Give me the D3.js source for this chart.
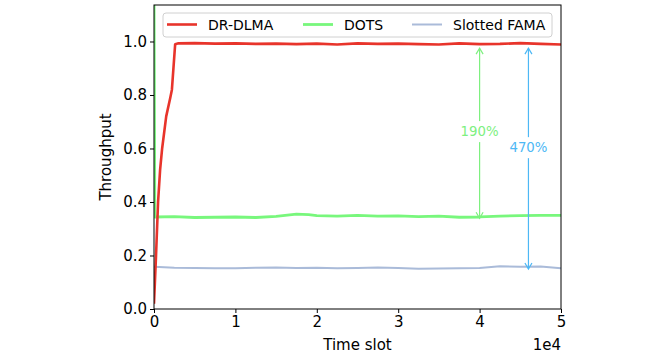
<!DOCTYPE html>
<html>
<head>
<meta charset="utf-8">
<script src="https://cdn.jsdelivr.net/npm/d3@7"></script>
<style>
html,body{margin:0;padding:0;background:#fff;}
svg{display:block;font-family:"DejaVu Sans",sans-serif;}
</style>
</head>
<body>
<svg id="chart" width="662" height="358"></svg>
<script>
// ---- data ----
const seriesNames = ["DR-DLMA", "DOTS", "Slotted FAMA"];
const drTime  = [0, 250, 500, 750, 1000, 1500, 2000, 2200, 2600, 3000, 5000, 7500, 10000, 12500, 15000, 17500, 20000, 22500, 25000, 27500, 30000, 32500, 35000, 37500, 40000, 42500, 45000, 47500, 50000];
const drValue = [0.02, 0.2, 0.4, 0.52, 0.6, 0.72, 0.79, 0.82, 0.99, 0.993, 0.994, 0.992, 0.993, 0.991, 0.992, 0.990, 0.992, 0.989, 0.993, 0.991, 0.992, 0.990, 0.989, 0.993, 0.990, 0.991, 0.994, 0.991, 0.989];
const dotsTime  = [0, 100, 2500, 5000, 7500, 10000, 12500, 15000, 17500, 19000, 20000, 22500, 25000, 27500, 30000, 32500, 35000, 37500, 40000, 42500, 45000, 47500, 50000];
const dotsValue = [1.2, 0.344, 0.345, 0.342, 0.343, 0.344, 0.342, 0.346, 0.355, 0.353, 0.349, 0.347, 0.350, 0.347, 0.348, 0.345, 0.347, 0.343, 0.344, 0.347, 0.349, 0.350, 0.350];
const famaTime  = [0, 2500, 5000, 7500, 10000, 12500, 15000, 17500, 20000, 22500, 25000, 27500, 30000, 32500, 35000, 37500, 40000, 42500, 45000, 47500, 50000];
const famaValue = [0.158, 0.154, 0.153, 0.152, 0.152, 0.154, 0.155, 0.153, 0.154, 0.152, 0.153, 0.155, 0.153, 0.150, 0.151, 0.152, 0.153, 0.160, 0.158, 0.159, 0.152];
const xTicks = [0, 10000, 20000, 30000, 40000, 50000];
const xTickLabels = ["0", "1", "2", "3", "4", "5"];
const yTicks = [0, 0.2, 0.4, 0.6, 0.8, 1.0];
const yTickLabels = ["0.0", "0.2", "0.4", "0.6", "0.8", "1.0"];
const annotations = [
  {label: "190%", t: 40000, from: 0.99, to: 0.345, labelAt: 0.665},
  {label: "470%", t: 46000, from: 0.99, to: 0.155, labelAt: 0.605}
];

// ---- styles ----
const colors = {"DR-DLMA": "#e8342b", "DOTS": "#78f77c", "Slotted FAMA": "#aabbd9"};
const widths = {"DR-DLMA": 2.6, "DOTS": 2.8, "Slotted FAMA": 2.0};
const annColors = ["#7ef07f", "#4db8f5"];

const svg = d3.select("#chart");
const L = 154, R = 561, T = 5, B = 309;
const x = d3.scaleLinear().domain([0, 50000]).range([L, R]);
const y = d3.scaleLinear().domain([0, 1.1364]).range([B, T]);

svg.append("defs").append("clipPath").attr("id", "clip")
  .append("rect").attr("x", L).attr("y", T).attr("width", R - L).attr("height", B - T);

const line = d3.line().x(d => x(d[0])).y(d => y(d[1]));
const plot = svg.append("g").attr("clip-path", "url(#clip)");

const data = {
  "DR-DLMA": drTime.map((t, i) => [t, drValue[i]]),
  "DOTS": dotsTime.map((t, i) => [t, dotsValue[i]]),
  "Slotted FAMA": famaTime.map((t, i) => [t, famaValue[i]])
};
["Slotted FAMA", "DOTS", "DR-DLMA"].forEach(n => {
  plot.append("path").datum(data[n]).attr("d", line)
    .attr("fill", "none").attr("stroke", colors[n]).attr("stroke-width", widths[n])
    .attr("stroke-linejoin", "round");
});

// annotations
annotations.forEach((a, i) => {
  const c = annColors[i];
  const g = svg.append("g");
  const xa = x(a.t), y1 = y(a.from) + 4, y2 = y(a.to) + 1.5;
  g.append("line").attr("x1", xa).attr("x2", xa).attr("y1", y1).attr("y2", y2)
    .attr("stroke", c).attr("stroke-width", 1.2);
  const head = (tipY, dir) => `M${xa - 3.5},${tipY + dir * 6} L${xa},${tipY} L${xa + 3.5},${tipY + dir * 6}`;
  g.append("path").attr("d", head(y1, 1)).attr("fill", "none").attr("stroke", c).attr("stroke-width", 1.2);
  g.append("path").attr("d", head(y2, -1)).attr("fill", "none").attr("stroke", c).attr("stroke-width", 1.2);
  const ty = y(a.labelAt);
  g.append("rect").attr("x", xa - 21).attr("y", ty - 10).attr("width", 42).attr("height", 21).attr("fill", "#fff");
  g.append("text").attr("x", xa).attr("y", ty).attr("text-anchor", "middle").attr("dominant-baseline", "central")
    .attr("font-size", 13.3).attr("fill", c).text(a.label);
});

// axes
const xAxis = d3.axisBottom(x).tickValues(xTicks).tickFormat((d, i) => xTickLabels[i]).tickSize(4).tickSizeOuter(0).tickPadding(3);
const yAxis = d3.axisLeft(y).tickValues(yTicks).tickFormat((d, i) => yTickLabels[i]).tickSize(4).tickSizeOuter(0).tickPadding(3);
const gx = svg.append("g").attr("transform", `translate(0,${B})`).call(xAxis);
const gy = svg.append("g").attr("transform", `translate(${L},0)`).call(yAxis);
[gx, gy].forEach(g => {
  g.select(".domain").remove();
  g.selectAll("text").attr("font-size", 15).attr("fill", "#000").attr("font-family", "DejaVu Sans");
  g.selectAll("line").attr("stroke", "#000").attr("stroke-width", 1);
});
// spines
svg.append("rect").attr("x", L).attr("y", T).attr("width", R - L).attr("height", B - T)
  .attr("fill", "none").attr("stroke", "#000").attr("stroke-width", 1);

svg.append("text").attr("x", (L + R) / 2).attr("y", 350).attr("text-anchor", "middle")
  .attr("font-size", 15).text("Time slot");
svg.append("text").attr("x", R).attr("y", 350).attr("text-anchor", "end")
  .attr("font-size", 15).text("1e4");
svg.append("text").attr("transform", `translate(111,${(T + B) / 2}) rotate(-90)`).attr("text-anchor", "middle")
  .attr("font-size", 15).text("Throughput");

// legend
const lg = svg.append("g");
lg.append("rect").attr("x", 163).attr("y", 13).attr("width", 389).attr("height", 24).attr("rx", 3)
  .attr("fill", "#fff").attr("fill-opacity", 0.8).attr("stroke", "#d0d0d0").attr("stroke-width", 1);
const lx = [167, 303, 412];
seriesNames.forEach((n, i) => {
  lg.append("line").attr("x1", lx[i]).attr("x2", lx[i] + 30).attr("y1", 24.5).attr("y2", 24.5)
    .attr("stroke", colors[n]).attr("stroke-width", widths[n]);
  lg.append("text").attr("x", lx[i] + 41).attr("y", 24.5).attr("dominant-baseline", "central")
    .attr("font-size", 14).text(n);
});
</script>
</body>
</html>
